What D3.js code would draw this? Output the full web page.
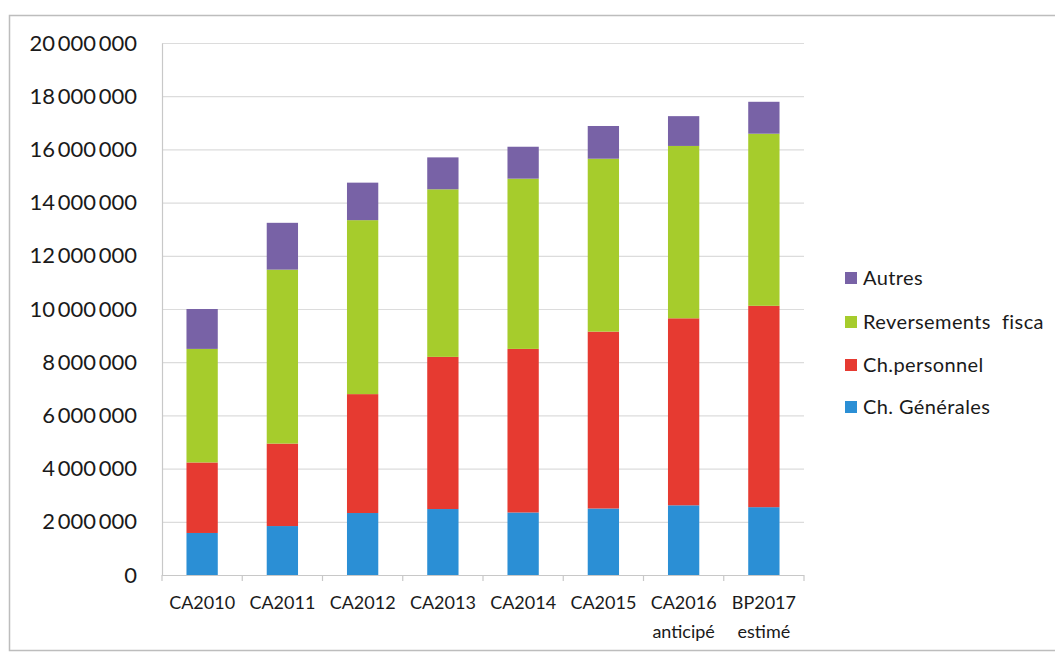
<!DOCTYPE html>
<html>
<head>
<meta charset="utf-8">
<script src="https://cdn.jsdelivr.net/npm/d3@7"></script>
<style>
  html, body { margin: 0; padding: 0; background: #fff; }
  svg { display: block; }
  text { font-family: Lato, "Open Sans", sans-serif; fill: #1a1a1a; }
</style>
</head>
<body>
<svg id="chart" width="1055" height="656"></svg>
<script>
// Budget de fonctionnement : dépenses par nature (en euros)
const categories = ["CA2010", "CA2011", "CA2012", "CA2013", "CA2014", "CA2015", "CA2016\nanticipé", "BP2017\nestimé"];
const chGenerales   = [1580000, 1840000, 2330000, 2480000, 2350000, 2500000, 2620000, 2550000];
const chPersonnel   = [2650000, 3100000, 4470000, 5720000, 6150000, 6650000, 7030000, 7570000];
const reversements  = [4270000, 6540000, 6540000, 6300000, 6400000, 6500000, 6480000, 6470000];
const autres        = [1500000, 1760000, 1410000, 1200000, 1200000, 1230000, 1120000, 1200000];
const seriesNames   = ["Ch. Générales", "Ch.personnel", "Reversements  fisca", "Autres"];
const seriesColors  = ["#2b8fd5", "#e63a31", "#a6cc2c", "#7862a6"];
const yTicks        = [0, 2000000, 4000000, 6000000, 8000000, 10000000, 12000000, 14000000, 16000000, 18000000, 20000000];

const svg = d3.select("#chart");

// outer frame of the chart object
svg.append("rect")
  .attr("x", 9.5).attr("y", 15.5)
  .attr("width", 1060).attr("height", 635)
  .attr("fill", "none").attr("stroke", "#bdbdbd").attr("stroke-width", 1.5);

const plot = { left: 162, right: 804, top: 43, bottom: 575 };

const x = d3.scaleBand()
  .domain(categories)
  .range([plot.left, plot.right])
  .paddingInner(0.61)
  .paddingOuter(0.305);

const y = d3.scaleLinear()
  .domain([0, 20000000])
  .range([plot.bottom, plot.top]);

const fr = d3.formatLocale({ decimal: ",", thousands: "\u2009", grouping: [3], currency: ["", " €"] });
const fmt = fr.format(",d");

// horizontal gridlines
svg.append("g")
  .selectAll("line")
  .data(yTicks.filter(d => d > 0))
  .join("line")
  .attr("x1", plot.left).attr("x2", plot.right)
  .attr("y1", d => y(d) + 0.5).attr("y2", d => y(d) + 0.5)
  .attr("stroke", "#dcdcdc").attr("stroke-width", 1.2);

// y axis
const yAxis = svg.append("g")
  .attr("transform", `translate(${plot.left},0)`)
  .call(d3.axisLeft(y).tickValues(yTicks).tickFormat(fmt).tickSize(0).tickPadding(25));
yAxis.select(".domain").attr("stroke", "#c8c8c8").attr("stroke-width", 1.2);
yAxis.selectAll("text")
  .style("font-family", "Lato, sans-serif")
  .style("font-size", "22px")
  .attr("fill", "#1a1a1a");

// stacked bars
const rows = categories.map((c, i) => ({
  cat: c,
  s0: chGenerales[i], s1: chPersonnel[i], s2: reversements[i], s3: autres[i]
}));
const stack = d3.stack().keys(["s0", "s1", "s2", "s3"]);
const layers = stack(rows);

svg.append("g")
  .selectAll("g")
  .data(layers)
  .join("g")
  .attr("fill", (d, i) => seriesColors[i])
  .selectAll("rect")
  .data(d => d)
  .join("rect")
  .attr("x", d => x(d.data.cat))
  .attr("width", x.bandwidth())
  .attr("y", d => y(d[1]))
  .attr("height", d => y(d[0]) - y(d[1]));

// x axis
const xAxis = svg.append("g")
  .attr("transform", `translate(0,${plot.bottom})`);
xAxis.append("line")
  .attr("x1", plot.left).attr("x2", plot.right)
  .attr("y1", 0.5).attr("y2", 0.5)
  .attr("stroke", "#c8c8c8").attr("stroke-width", 1.2);
const bounds = d3.range(categories.length + 1).map(i => plot.left + (plot.right - plot.left) * i / categories.length);
xAxis.selectAll(".tick-mark")
  .data(bounds)
  .join("line")
  .attr("class", "tick-mark")
  .attr("x1", d => d).attr("x2", d => d)
  .attr("y1", 0).attr("y2", 6)
  .attr("stroke", "#c8c8c8").attr("stroke-width", 1.2);

const xl = xAxis.selectAll(".xlabel")
  .data(categories)
  .join("text")
  .attr("class", "xlabel")
  .attr("text-anchor", "middle")
  .attr("x", d => x(d) + x.bandwidth() / 2)
  .attr("y", 34)
  .style("font-size", "18px");
xl.each(function(d) {
  const parts = d.split("\n");
  d3.select(this).selectAll("tspan")
    .data(parts)
    .join("tspan")
    .attr("x", x(d) + x.bandwidth() / 2)
    .attr("dy", (p, j) => j === 0 ? 0 : 29)
    .text(p => p);
});

// legend (top entry = last series)
const legend = svg.append("g").attr("transform", "translate(845,0)");
const legendY = [407, 365, 322, 278];
seriesNames.forEach((name, i) => {
  const g = legend.append("g").attr("transform", `translate(0,${legendY[i]})`);
  g.append("rect")
    .attr("x", 0).attr("y", -6)
    .attr("width", 12).attr("height", 12)
    .attr("fill", seriesColors[i]);
  g.append("text")
    .attr("x", 18).attr("y", 0)
    .attr("dy", "0.35em")
    .style("font-size", "20px")
    .style("letter-spacing", "0.4px")
    .style("white-space", "pre")
    .text(name);
});
</script>
</body>
</html>
